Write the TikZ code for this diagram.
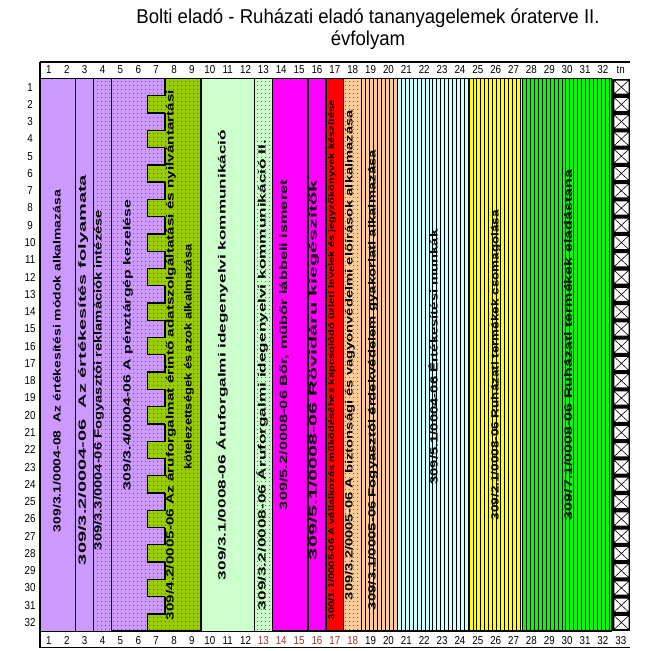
\documentclass[tikz,border=0pt]{standalone}
\usepackage{fontspec}
\setmainfont{Liberation Sans}
\usepackage{graphicx}
\usetikzlibrary{patterns}
\definecolor{lila}{HTML}{CC99FF}
\definecolor{olive}{HTML}{99CC00}
\definecolor{halvzold}{HTML}{CCFFCC}
\definecolor{barack}{HTML}{FFCC99}
\definecolor{halvkek}{HTML}{CCFFFF}
\definecolor{bibor}{HTML}{FF00FF}
\definecolor{piros}{HTML}{FF0000}
\definecolor{sarga}{HTML}{FFFF00}
\definecolor{zold}{HTML}{00FF00}
\definecolor{sotetpiros}{HTML}{993333}
\pgfdeclarepatternformonly{ritkapont}{\pgfpointorigin}{\pgfpoint{4pt}{4pt}}{\pgfpoint{4pt}{4pt}}{%
  \pgfpathcircle{\pgfpoint{2pt}{2pt}}{0.55pt}\pgfusepath{fill}}
\tikzset{
  blokk/.style={draw=black, line width=1.3pt},
  vekony/.style={draw=black, line width=0.6pt},
  pottyos/.style={pattern=ritkapont, pattern color=black!85},
  szam/.style={font=\fontsize{11.5}{11.5}\selectfont, inner sep=0pt},
  cimsor/.style={font=\fontsize{20}{20}\selectfont, inner sep=0pt},
}
\newsavebox\tdoboz
\newcommand\vtext[5]{%
  \node[rotate=90, inner sep=0pt] (#1) at (#2,#3) {%
    \sbox\tdoboz{\fontsize{10.5}{11}\selectfont\bfseries #5}%
    \pgfmathsetmacro\nyujt{#4/\wd\tdoboz}%
    \scalebox{\nyujt}[1]{\usebox\tdoboz}};}
\newcommand\csikok[3]{\foreach \s in {#1,#3,...,#2} \draw[line width=0.6pt] (\s,0) -- (\s,32);}
\begin{document}
\begin{tikzpicture}[x=1pt, y=-1pt]
  \useasboundingbox[fill=white] (0,0) rectangle (651,651);
  \node[cimsor] (cim1) at (368,18) {\scalebox{0.93}[1]{Bolti eladó - Ruházati eladó tananyagelemek óraterve II.}};
  \node[cimsor] (cim2) at (368,40) {\scalebox{0.93}[1]{évfolyam}};
  \begin{scope}[xshift=40pt, yshift=-78.5pt, x=17.87pt, y=-17.27pt]
    % fejlec
    \draw[line width=1.5pt] (0,-0.95) -- (33,-0.95);
    \draw[line width=1.2pt] (0,-0.95) -- (0,32.95);
    \foreach \c in {1,...,32} {
      \node[szam] (fej\c) at (\c-0.5,-0.5) {\scalebox{0.85}[1]{\c}};
      \node[szam] (sor\c) at (-0.55,\c-0.5) {\scalebox{0.85}[1]{\c}};
    }
    \node[szam] (fejtn) at (32.5,-0.5) {\scalebox{0.85}[1]{tn}};
    \foreach \c in {1,...,12,19,20,...,32} \node[szam] (lab\c) at (\c-0.5,32.55) {\scalebox{0.85}[1]{\c}};
    \foreach \c in {13,...,18} \node[szam, text=sotetpiros] (lab\c) at (\c-0.5,32.55) {\scalebox{0.85}[1]{\c}};
    \node[szam] (lab33) at (32.5,32.55) {\scalebox{0.85}[1]{33}};
    % blokkok
    \fill[lila] (0,0) rectangle (4,32);
    \fill[lila] (4,0) rectangle (6,32);
    \foreach \r in {1,3,...,31} \fill[lila] (6,\r-1) rectangle (7,\r);
    \fill[olive] (7,0) rectangle (9,32);
    \foreach \r in {2,4,...,32} \fill[olive] (6,\r-1) rectangle (7,\r);
    \fill[pottyos] (3,0) rectangle (9,32);
    \fill[halvzold] (9,0) rectangle (13,32);
    \fill[pottyos] (12,0) rectangle (13,32);
    \fill[bibor] (13,0) rectangle (16,32);
    \fill[piros] (16,0) rectangle (17,32);
    \fill[barack] (17,0) rectangle (20,32);
    \fill[pottyos] (17,0) rectangle (18,32);
    \fill[halvkek] (20,0) rectangle (24,32);
    \fill[sarga] (24,0) rectangle (27,32);
    \fill[zold] (27,0) rectangle (32,32);
    \csikok{18.22}{19.9}{18.44}
    \csikok{20.22}{23.9}{20.44}
    \csikok{24.22}{26.9}{24.44}
    \csikok{27.22}{31.9}{27.44}
    % keretek
    \draw[vekony] (0,0) rectangle (2,32) (2,0) rectangle (3,32) (3,0) rectangle (4,32);
    \draw[vekony] (9,0) rectangle (12,32) (12,0) rectangle (13,32);
    \draw[blokk] (4,0) -- (9,0) -- (9,32) -- (4,32);
    \foreach \r in {1,3,...,31}
      \draw[blokk] (7,\r-1) -- (7,\r) -- (6,\r) -- (6,\r+1) -- (7,\r+1);
    \foreach \a/\b in {13/15,15/16,16/17,17/18,18/20,20/24,24/27,27/32}
      \draw[blokk] (\a,0) rectangle (\b,32);
    % tn oszlop
    \fill[black] (32,0) rectangle (33,32);
    \foreach \r in {1,...,32} {
      \fill[white] (32.12,\r-0.9) rectangle (32.95,\r-0.1);
      \draw[line width=0.6pt] (32.12,\r-0.9) rectangle (32.95,\r-0.1)
        (32.12,\r-0.9) -- (32.95,\r-0.1) (32.12,\r-0.1) -- (32.95,\r-0.9);
    }
    \draw[line width=1.2pt] (0,32.95) -- (33,32.95);
  \end{scope}
  % feliratok
  \vtext{t1}{57}{361}{342}{309/3.1/0004-08\ \ Az értékesítési módok alkalmazása}
  \vtext{t2}{83}{370}{390}{309/3.2/0004-06\ \ Az értékesítés folyamata}
  \vtext{t3}{99}{380}{340}{309/3.3/0004-06 Fogyasztói reklamációk intézése}
  \vtext{t4}{128}{345}{290}{309/3.4/0004-06 A pénztárgép kezelése}
  \vtext{t5}{171}{355}{530}{309/4.2/0005-06 Az áruforgalmat érintő adatszolgáltatási és nyilvántartási}
  \vtext{t5b}{189}{357}{225}{kötelezettségek és azok alkalmazása}
  \vtext{t6}{222}{355}{450}{309/3.1/0008-06 Áruforgalmi idegenyelvi kommunikáció}
  \vtext{t7}{262}{375}{470}{309/3.2/0008-06 Áruforgalmi idegenyelvi kommunikáció II.}
  \vtext{t8}{284}{345}{330}{309/5.2/0008-06 Bőr, műbőr lábbeli ismeret}
  \vtext{t9}{314}{370}{380}{309/5.1/0008-06 Rövidáru kiegészítők}
  \vtext{t10}{332}{360}{520}{\fontsize{8}{9}\selectfont 309/1.1/0005-06 A vállalkozás működéséhez kapcsolódó üzleti levelek és jegyzőkönyvek készítése}
  \vtext{t11}{350}{355}{490}{309/3.2/0005-06 A biztonsági és vagyonvédelmi előírások alkalmazása}
  \vtext{t12}{373}{380}{460}{309/3.1/0005-06 Fogyasztói érdekvédelem gyakorlati alkalmazása}
  \vtext{t13}{433}{357}{255}{309/5.1/0004-06 Értékesítési munkák}
  \vtext{t14}{496}{365}{310}{309/2.1/0008-06 Ruházati termékek csomagolása}
  \vtext{t15}{568}{345}{350}{309/7.1/0008-06 Ruházati termékek eladástana}
\end{tikzpicture}
\end{document}
